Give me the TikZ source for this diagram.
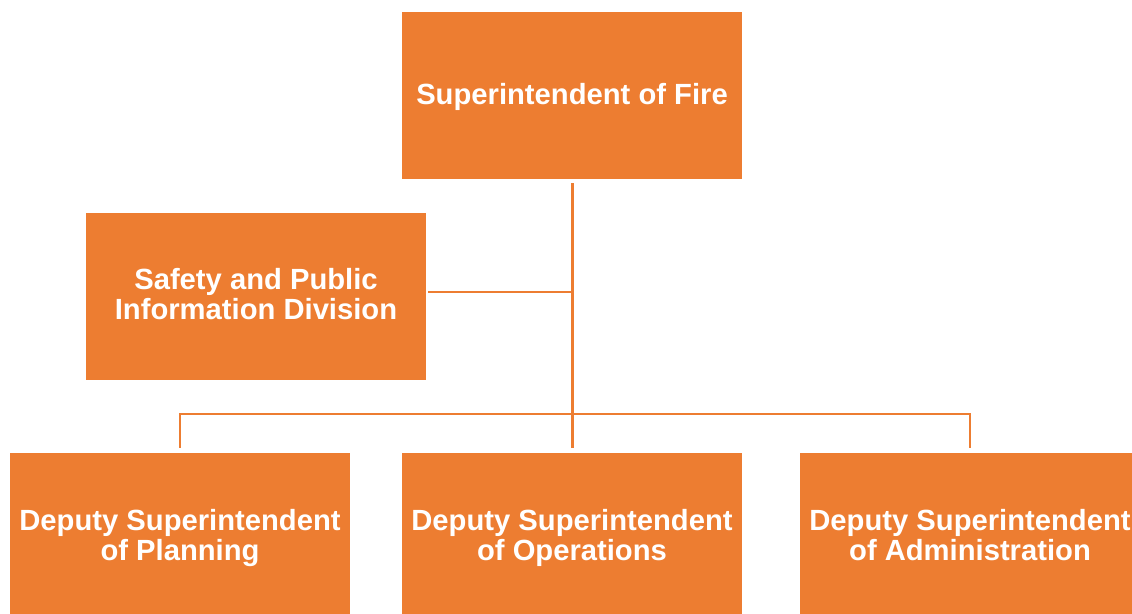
\documentclass[tikz,border=0pt]{standalone}
\usepackage{fontspec}
\setmainfont{Liberation Sans}
\definecolor{fireorange}{HTML}{ED7D31}
\newcommand\unitstrut{\rule[-6.4pt]{0pt}{30.4pt}}

\begin{document}
\begin{tikzpicture}[x=1pt, y=-1pt,
    unit/.style={fill=fireorange, text=white, align=center, inner sep=0pt,
        minimum width=340pt, minimum height=167pt,
        font=\fontsize{29.2}{30}\selectfont\bfseries,
        execute at end node=\unitstrut},
    link/.style={draw=fireorange, line width=2pt}]
    \useasboundingbox (0,0) rectangle (1132,613);
    \clip (0,0) rectangle (1132,613);

    \node[unit] (chief) at (572,95.5) {\unitstrut Superintendent of Fire};
    \node[unit] (safety) at (256,296) {\unitstrut Safety and Public\\Information Division};

    \node[unit] (planning) at (180,536.5) {\unitstrut Deputy Superintendent\\of Planning};
    \node[unit] (operations) at (572,536.5) {\unitstrut Deputy Superintendent\\of Operations};
    \node[unit] (admin) at (970,536.5) {\unitstrut Deputy Superintendent\\of Administration};

    \coordinate (tap) at (572,292);
    \coordinate (bus) at (572,414);

    % trunk down from the chief
    \draw[link, line width=3pt] ([yshift=-4pt]chief.south) -- ([yshift=5pt]operations.north);
    \draw[link, line width=1.5pt] ([xshift=2pt]safety.east |- tap) -- (tap);

    % bus to the deputies
    \draw[link] ([yshift=5pt]planning.north) |- (bus) -| ([yshift=5pt]admin.north);
\end{tikzpicture}
\end{document}
